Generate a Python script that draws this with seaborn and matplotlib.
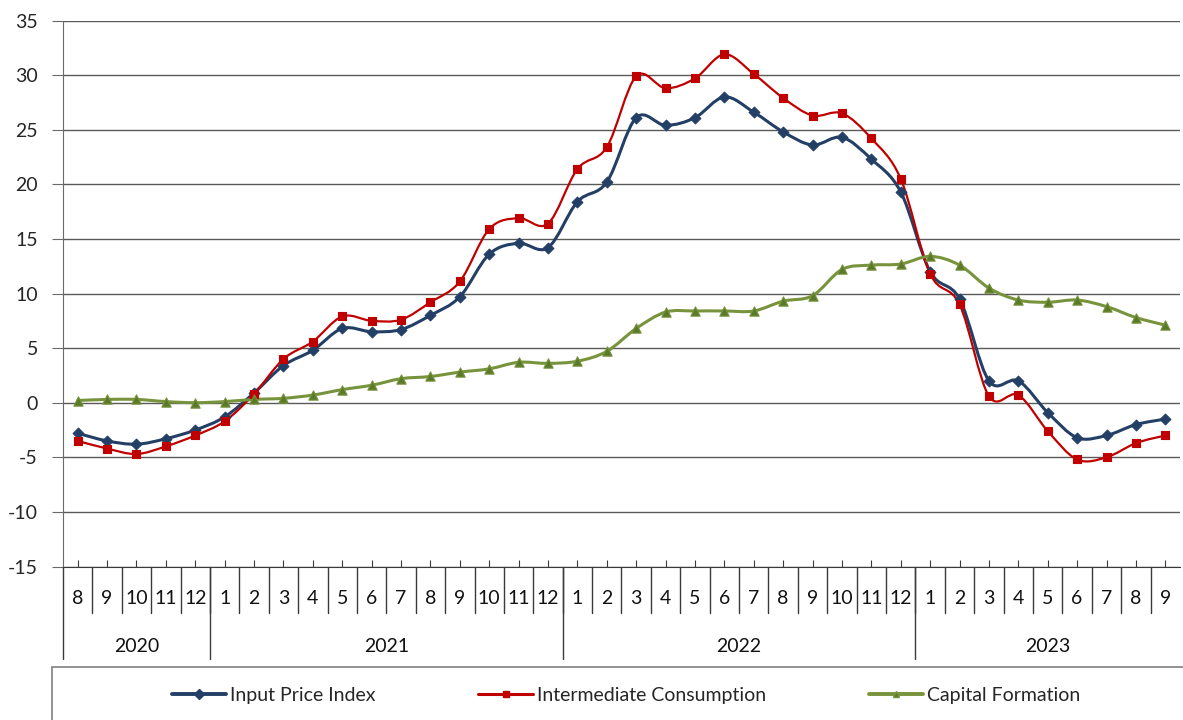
import matplotlib.pyplot as plt
import numpy as np
import pandas as pd
import seaborn as sns
from matplotlib.lines import Line2D
from matplotlib.patches import PathPatch, Rectangle
from matplotlib.path import Path
from matplotlib.transforms import blended_transform_factory

# data
months = [8, 9, 10, 11, 12,
          1, 2, 3, 4, 5, 6, 7, 8, 9, 10, 11, 12,
          1, 2, 3, 4, 5, 6, 7, 8, 9, 10, 11, 12,
          1, 2, 3, 4, 5, 6, 7, 8, 9]
years = ["2020", "2021", "2022", "2023"]
year_counts = [5, 12, 12, 9]

input_price = [-2.8, -3.5, -3.8, -3.3, -2.5,
               -1.3, 0.9, 3.4, 4.8, 6.8, 6.5, 6.7, 8.0, 9.7, 13.6, 14.6, 14.2,
               18.4, 20.2, 26.1, 25.4, 26.1, 28.0, 26.6, 24.8, 23.6, 24.3, 22.3, 19.3,
               12.0, 9.5, 2.0, 2.0, -0.9, -3.2, -3.0, -2.0, -1.5]
intermediate = [-3.5, -4.2, -4.7, -4.0, -3.0,
                -1.7, 0.8, 4.0, 5.6, 7.9, 7.5, 7.6, 9.2, 11.1, 15.9, 16.9, 16.4,
                21.4, 23.4, 29.9, 28.8, 29.7, 31.9, 30.1, 27.9, 26.3, 26.5, 24.2, 20.5,
                11.8, 9.0, 0.6, 0.7, -2.6, -5.2, -5.0, -3.7, -3.0]
capital = [0.2, 0.3, 0.3, 0.1, 0.0,
           0.1, 0.3, 0.4, 0.7, 1.2, 1.6, 2.2, 2.4, 2.8, 3.1, 3.7, 3.6,
           3.8, 4.7, 6.8, 8.3, 8.4, 8.4, 8.4, 9.3, 9.8, 12.2, 12.6, 12.7,
           13.4, 12.6, 10.5, 9.4, 9.2, 9.4, 8.8, 7.8, 7.1]

series = [
    ("Input Price Index", input_price, "#243F66", "D", 2.2, 30, "#243F66"),
    ("Intermediate Consumption", intermediate, "#C00000", "s", 1.6, 30, "#C00000"),
    ("Capital Formation", capital, "#77933C", "^", 2.2, 45, "#5A7A2A"),
]


def smooth_path(xs, ys):
    # excel-like smoothed line drawn as bezier segments through the points
    pts = np.column_stack([xs, ys]).astype(float)
    n = len(pts)
    verts = [pts[0]]
    codes = [Path.MOVETO]
    for i in range(n - 1):
        p0 = pts[max(i - 1, 0)]
        p1 = pts[i]
        p2 = pts[i + 1]
        p3 = pts[min(i + 2, n - 1)]
        verts += [p1 + (p2 - p0) / 6, p2 - (p3 - p1) / 6, p2]
        codes += [Path.CURVE4] * 3
    return Path(verts, codes)


sns.set_style("white")
plt.rcParams['font.family'] = ['Lato', 'DejaVu Sans']
plt.rcParams['axes.unicode_minus'] = False

W, H = 1183, 720
fig = plt.figure(figsize=(W / 100, H / 100), dpi=100)
ax = fig.add_axes([63 / W, 1 - 566.5 / H, (1180 - 63) / W, (566.5 - 20.5) / H])

x = np.arange(len(months))
df = pd.DataFrame({"x": x, "Input Price Index": input_price,
                   "Intermediate Consumption": intermediate,
                   "Capital Formation": capital})

handles = []
for name, vals, col, mk, lw, ms, mcol in series:
    ax.add_patch(PathPatch(smooth_path(x, vals), facecolor="none", edgecolor=col,
                           lw=lw, zorder=3, capstyle="round", joinstyle="round"))
    sns.scatterplot(data=df, x="x", y=name, marker=mk, s=ms, color=mcol,
                    edgecolor=col, linewidth=0.8, zorder=4, ax=ax, legend=False)
    handles.append(Line2D([], [], color=col, lw=lw + 0.6, marker=mk,
                          markersize=5, markerfacecolor=mcol, markeredgecolor=col,
                          label=name))

ax.set_xlim(-0.5, len(months) - 0.5)
ax.set_ylim(-15, 35)
ax.set_yticks(range(-15, 40, 5))
ax.set_xticks(x)
ax.set_xticklabels([])
ax.set_xlabel("")
ax.set_ylabel("")
ax.yaxis.grid(True, color="#5a5a5a", lw=1)
ax.xaxis.grid(False)
for side in ["top", "right"]:
    ax.spines[side].set_visible(False)
ax.spines["left"].set_color("#6a6a6a")
ax.spines["bottom"].set_color("#3a3a3a")
ax.tick_params(axis="y", direction="out", length=8, color="#6a6a6a",
               labelsize=14, pad=10, left=True)
ax.tick_params(axis="x", direction="in", length=5, color="#3a3a3a", bottom=True)

# two level category axis below the plot
tr = blended_transform_factory(ax.transData, fig.transFigure)
y_axis = 1 - 566.5 / H
y_month_end = 1 - 613 / H
y_year_end = 1 - 659 / H
for i, m in enumerate(months):
    ax.text(i, 1 - 599 / H, str(m), transform=tr, ha="center", va="center",
            fontsize=14, color="#111111")
    if i > 0:
        ax.add_line(Line2D([i - 0.5, i - 0.5], [y_axis, y_month_end], transform=tr,
                           color="#3a3a3a", lw=1, clip_on=False))
start = 0
for yr, cnt in zip(years, year_counts):
    ax.add_line(Line2D([start - 0.5, start - 0.5], [y_axis, y_year_end], transform=tr,
                       color="#3a3a3a", lw=1, clip_on=False))
    ax.text(start + (cnt - 1) / 2, 1 - 646 / H, yr, transform=tr, ha="center",
            va="center", fontsize=14, color="#111111")
    start += cnt

# legend box running off the bottom right edge
fig.patches.append(Rectangle((52 / W, -0.05), 1.0, 0.05 + (720 - 666.5) / H,
                             transform=fig.transFigure, facecolor="none",
                             edgecolor="#808080", lw=1.2))
fig.legend(handles=handles, loc="center", bbox_to_anchor=(626 / W, 1 - 695 / H),
           ncol=3, frameon=False, fontsize=14, handlelength=2.8,
           handletextpad=0.2, columnspacing=5.3)

plt.savefig("out.png", dpi=100)
